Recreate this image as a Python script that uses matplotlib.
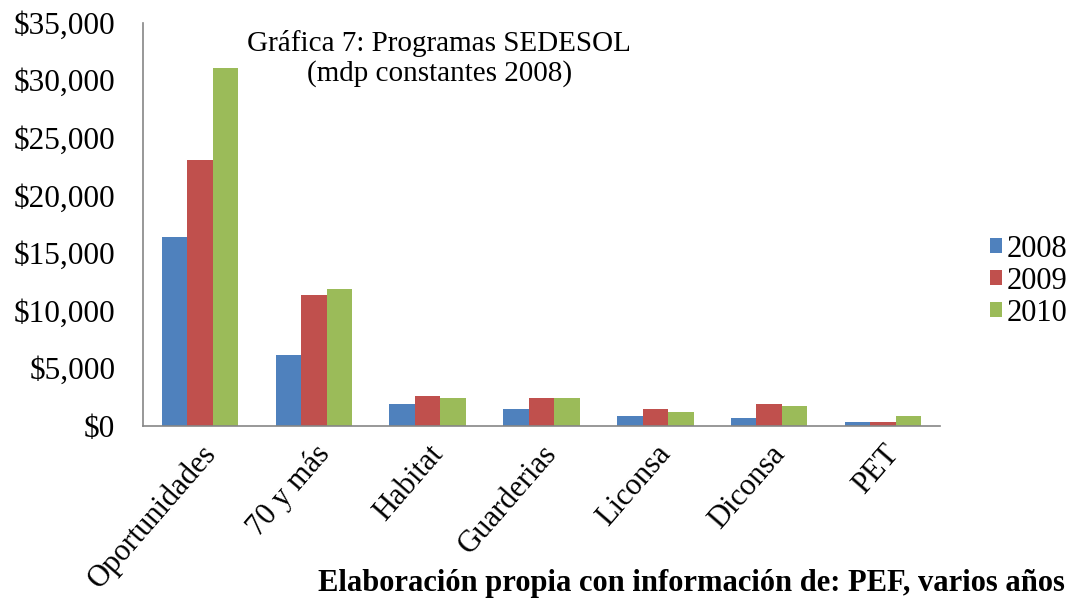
import matplotlib
matplotlib.use("Agg")
import matplotlib.pyplot as plt
import numpy as np

# program budgets, millions of constant 2008 pesos
programas = ["Oportunidades", "70 y más", "Habitat", "Guarderias",
             "Liconsa", "Diconsa", "PET"]
v2008 = [16400, 6140, 1910, 1480, 840, 700, 290]
v2009 = [23060, 11320, 2580, 2430, 1480, 1910, 290]
v2010 = [31100, 11900, 2400, 2400, 1220, 1740, 840]
years = ["2008", "2009", "2010"]
colors = ["#4F81BD", "#C0504D", "#9BBB59"]

plt.rcParams['font.family'] = ['Liberation Serif', 'DejaVu Serif']

fig = plt.figure(figsize=(10.87, 5.98), dpi=100)
ax = fig.add_axes([0.1316, 0.288, 0.733, 0.674])

x = np.arange(len(programas))
w = 0.224
for i, (vals, yr, c) in enumerate(zip([v2008, v2009, v2010], years, colors)):
    ax.bar(x + (i - 1) * w, vals, width=w, color=c, label=yr)

ax.set_xlim(-0.5, len(programas) - 0.5)
ax.set_ylim(0, 35000)
ax.set_yticks(range(0, 35001, 5000))
ax.set_yticklabels(["${:,}".format(v) for v in range(0, 35001, 5000)], fontsize=22.5)
ax.set_xticks(x)
ax.set_xticklabels(programas, fontsize=22, rotation=49, ha='right',
                   rotation_mode='anchor')
ax.tick_params(axis='x', length=0, pad=10)
ax.tick_params(axis='y', length=0, pad=20)

for s in ['top', 'right']:
    ax.spines[s].set_visible(False)
for s in ['left', 'bottom']:
    ax.spines[s].set_color('#868686')
    ax.spines[s].set_linewidth(1.2)

fig.legend(loc='center left', bbox_to_anchor=(990 / 1087, 0.53), frameon=False,
           fontsize=22, handlelength=0.4, handleheight=0.4, handletextpad=0.15,
           labelspacing=0.1, borderpad=0, borderaxespad=0)

fig.text(0.404, 0.902, "Gráfica 7: Programas SEDESOL\n(mdp constantes 2008)",
         ha='center', va='center', fontsize=21, linespacing=1.12)
fig.text(0.293, 0.0, "Elaboración propia con información de: PEF, varios años",
         ha='left', va='bottom', fontsize=22, fontweight='bold')

fig.savefig("out.png", dpi=100)
